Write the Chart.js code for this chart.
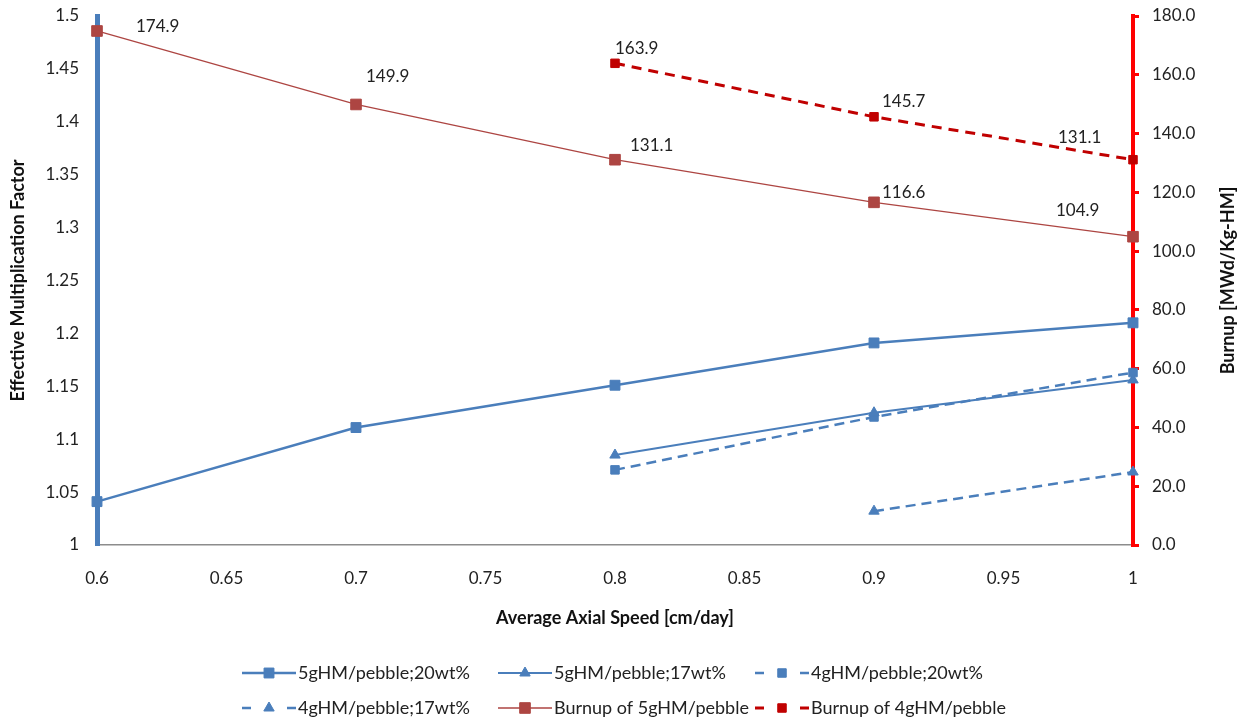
<!DOCTYPE html>
<html>
<head>
<meta charset="utf-8">
<script src="https://cdn.jsdelivr.net/npm/chart.js@4/dist/chart.umd.min.js"></script>
<style>
html,body{margin:0;padding:0;background:#fff;}
#wrap{width:1245px;height:720px;}
</style>
</head>
<body>
<div id="wrap"><canvas id="c" width="1245" height="720"></canvas></div>
<script>
// ---- data ----
const speeds = [0.6, 0.7, 0.8, 0.9, 1.0];
const keff5g20 = [1.041, 1.111, 1.151, 1.191, 1.210];
const speeds5g17 = [0.8, 0.9, 1.0];
const keff5g17 = [1.085, 1.125, 1.156];
const speeds4g20 = [0.8, 0.9, 1.0];
const keff4g20 = [1.071, 1.121, 1.163];
const speeds4g17 = [0.9, 1.0];
const keff4g17 = [1.032, 1.069];
const burnup5g = [174.9, 149.9, 131.1, 116.6, 104.9];
const speedsBurnup4g = [0.8, 0.9, 1.0];
const burnup4g = [163.9, 145.7, 131.1];
const seriesNames = [
  '5gHM/pebble;20wt%', '5gHM/pebble;17wt%', '4gHM/pebble;20wt%',
  '4gHM/pebble;17wt%', 'Burnup of 5gHM/pebble', 'Burnup of 4gHM/pebble'
];
const xTitle = 'Average Axial Speed [cm/day]';
const yTitle = 'Effective Multiplication Factor';
const y1Title = 'Burnup [MWd/Kg-HM]';

// ---- label placement (pixels, relative to point) ----
const labelOffsets5g = [[39,-4],[10,-28],[15,-14],[8,-10],[-77,-26]];
const labelOffsets4g = [[0,-15],[8,-15],[-75,-22]];

const BLUE = '#4a7ebb';
const RED5 = '#ad4542';
const RED4 = '#c00000';
const FONT = 'Lato';

function pts(xs, ys) { return xs.map((x, i) => ({x: x, y: ys[i]})); }
function style(color, width, shape, radius, dash) {
  return {
    borderColor: color, backgroundColor: color,
    pointBackgroundColor: color, pointBorderColor: color,
    borderWidth: width, pointStyle: shape, pointRadius: radius,
    pointBorderWidth: 1, borderDash: dash || [], tension: 0, fill: false, clip: false
  };
}

const datasets = [
  Object.assign({label: seriesNames[0], data: pts(speeds, keff5g20), yAxisID: 'y'}, style(BLUE, 2.5, 'rect', 7)),
  Object.assign({label: seriesNames[1], data: pts(speeds5g17, keff5g17), yAxisID: 'y'}, style(BLUE, 2, 'triangle', 6)),
  Object.assign({label: seriesNames[2], data: pts(speeds4g20, keff4g20), yAxisID: 'y'}, style(BLUE, 2.5, 'rect', 6, [10, 6])),
  Object.assign({label: seriesNames[3], data: pts(speeds4g17, keff4g17), yAxisID: 'y'}, style(BLUE, 2.5, 'triangle', 6, [10, 6])),
  Object.assign({label: seriesNames[4], data: pts(speeds, burnup5g), yAxisID: 'y1', valueLabelOffsets: labelOffsets5g}, style(RED5, 1.3, 'rect', 7.5)),
  Object.assign({label: seriesNames[5], data: pts(speedsBurnup4g, burnup4g), yAxisID: 'y1', valueLabelOffsets: labelOffsets4g}, style(RED4, 3, 'rect', 6, [10, 7]))
];

const valueLabels = {
  id: 'valueLabels',
  afterDatasetsDraw(chart) {
    const c = chart.ctx;
    c.save();
    c.font = '17px ' + FONT;
    c.fillStyle = '#222';
    c.textBaseline = 'middle';
    c.textAlign = 'left';
    chart.data.datasets.forEach((ds, i) => {
      if (!ds.valueLabelOffsets) return;
      chart.getDatasetMeta(i).data.forEach((el, j) => {
        const o = ds.valueLabelOffsets[j];
        c.fillText(ds.data[j].y.toFixed(1), el.x + o[0], el.y + o[1]);
      });
    });
    c.restore();
  }
};

// right axis title reads bottom-to-top, like the left one
const rightTitle = {
  id: 'rightTitle',
  afterDraw(chart) {
    const s = chart.scales.y1;
    const c = chart.ctx;
    c.save();
    c.translate(s.right - 17, (s.top + s.bottom) / 2);
    c.rotate(-Math.PI / 2);
    c.font = 'bold 18px ' + FONT;
    c.fillStyle = '#111';
    c.textAlign = 'center';
    c.textBaseline = 'middle';
    c.fillText(y1Title, 0, 0);
    c.restore();
  }
};

const LEGEND_COLS = [242, 498, 755];
const LEGEND_ROWS = [673, 708];
const sampleLegend = {
  id: 'sampleLegend',
  afterDraw(chart) {
    const c = chart.ctx;
    chart.data.datasets.forEach((ds, i) => {
      const x0 = LEGEND_COLS[i % 3], y = LEGEND_ROWS[Math.floor(i / 3)];
      c.save();
      c.strokeStyle = ds.borderColor;
      c.lineWidth = ds.borderWidth;
      c.setLineDash(ds.borderDash.length ? [9, 36] : []);
      c.beginPath(); c.moveTo(x0, y); c.lineTo(x0 + 54, y); c.stroke();
      c.setLineDash([]);
      c.fillStyle = ds.pointBackgroundColor;
      c.strokeStyle = ds.pointBorderColor;
      c.lineWidth = 1;
      Chart.helpers.drawPoint(c, {pointStyle: ds.pointStyle, radius: ds.pointRadius, rotation: 0, borderWidth: 1}, x0 + 27, y);
      c.font = '18px ' + FONT;
      c.fillStyle = '#222';
      c.textBaseline = 'middle';
      c.textAlign = 'left';
      c.fillText(ds.label, x0 + 56, y);
      c.restore();
    });
  }
};

const tickFont = {family: FONT, size: 17};
const titleFont = {family: FONT, size: 18, weight: 'bold'};

function fixVertical(width) {
  return function (s) { s.width = width; s.paddingTop = 0; s.paddingBottom = 0; };
}

new Chart(document.getElementById('c'), {
  type: 'line',
  data: {datasets: datasets},
  options: {
    responsive: false,
    animation: false,
    events: [],
    layout: {padding: {top: 16, bottom: 91, left: 0, right: 0}},
    plugins: {legend: {display: false}, tooltip: {enabled: false}},
    scales: {
      x: {
        type: 'linear', position: 'bottom', min: 0.6, max: 1,
        ticks: {stepSize: 0.05, padding: 23, color: '#222', font: tickFont, maxRotation: 0, autoSkip: false,
                callback: v => String(+v.toFixed(2))},
        grid: {display: false, drawTicks: false},
        border: {color: '#8c8c8c', width: 1.5},
        title: {display: true, text: xTitle, font: titleFont, color: '#111', padding: {top: 0, bottom: 0}},
        afterFit(s) { s.height = 84; s.paddingLeft = 0; s.paddingRight = 0; }
      },
      y: {
        type: 'linear', position: 'left', min: 1, max: 1.5,
        ticks: {stepSize: 0.05, padding: 18, color: '#222', font: tickFont,
                callback: v => String(+v.toFixed(2))},
        grid: {display: false, drawTicks: false},
        border: {color: BLUE, width: 5},
        title: {display: true, text: yTitle, font: titleFont, color: '#111', padding: {top: 7, bottom: 0}},
        afterFit: fixVertical(97)
      },
      y1: {
        type: 'linear', position: 'right', min: 0, max: 180,
        ticks: {stepSize: 20, padding: 13, color: '#222', font: tickFont,
                callback: v => v.toFixed(1)},
        grid: {display: true, drawOnChartArea: false, drawTicks: true, tickLength: 6, color: '#ff0000', lineWidth: 3},
        border: {color: '#ff0000', width: 4},
        title: {display: false},
        afterFit: fixVertical(112)
      }
    }
  },
  plugins: [valueLabels, rightTitle, sampleLegend]
});
</script>
</body>
</html>
